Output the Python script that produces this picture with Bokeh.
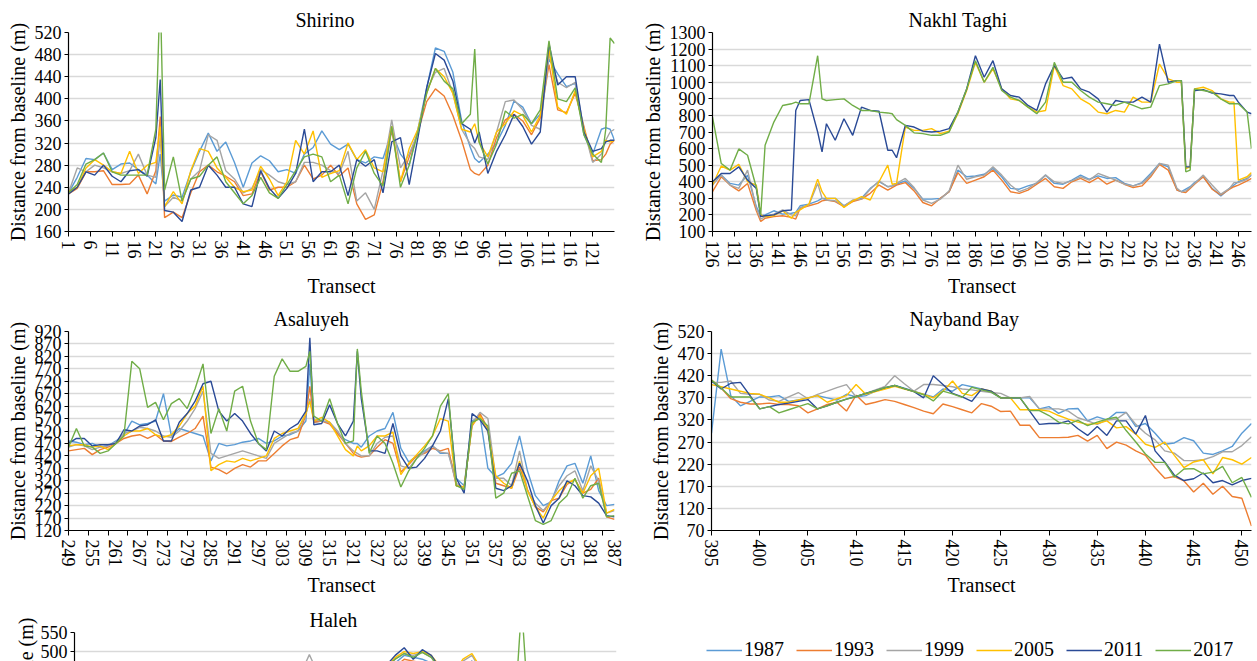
from bokeh.plotting import figure
from bokeh.models import Range1d, FixedTicker, Title, Legend, LegendItem
from bokeh.layouts import column, row
from bokeh.embed import file_html
from bokeh.resources import INLINE

FONT = "Liberation Serif"
YEARS = ["1987", "1993", "1999", "2005", "2011", "2017"]
COLORS = ["#5B9BD5", "#ED7D31", "#A5A5A5", "#FFC000", "#2A4A96", "#70AD47"]

# ---------------- Shirino ----------------
SH_X = [1, 3, 5, 7, 9, 11, 13, 15, 17, 19,
        21, 22, 23, 25, 27, 29, 31, 33, 35, 37,
        39, 41, 43, 45, 47, 49, 51, 53, 55, 57,
        59, 61, 63, 65, 67, 69, 71, 73, 75, 77,
        79, 81, 83, 85, 87, 89, 91, 93, 94, 95,
        97, 99, 101, 103, 105, 107, 109, 111, 113, 115,
        117, 119, 121, 123, 124, 125, 126]
SH_1987 = [230, 258, 292, 290, 302, 272, 282, 284, 272, 262,
           246, 300, 215, 226, 222, 268, 305, 338, 305, 322,
           285, 240, 284, 297, 288, 268, 272, 265, 300, 312,
           342, 318, 308, 318, 290, 284, 295, 292, 340, 300,
           280, 345, 420, 492, 486, 448, 360, 312, 292, 285,
           300, 320, 352, 396, 385, 355, 372, 472, 445, 422,
           428, 335, 300, 345, 348, 345, 325]
SH_1993 = [228, 238, 268, 268, 270, 245, 245, 246, 262, 228,
           270, 368, 185, 195, 185, 230, 268, 280, 268, 260,
           250, 225, 228, 268, 235, 240, 240, 250, 280, 255,
           262, 280, 260, 275, 210, 182, 190, 250, 345, 250,
           295, 340, 395, 418, 405, 370, 325, 272, 265, 262,
           280, 330, 362, 372, 360, 335, 365, 462, 380, 375,
           410, 350, 288, 290, 300, 318, 325]
SH_1999 = [230, 275, 268, 280, 275, 268, 265, 270, 300, 262,
           258, 330, 205, 222, 215, 255, 270, 335, 325, 270,
           255, 230, 238, 272, 262, 250, 245, 250, 285, 285,
           280, 270, 265, 305, 215, 230, 200, 270, 362, 275,
           300, 338, 415, 448, 455, 410, 345, 318, 310, 295,
           290, 340, 395, 398, 380, 352, 345, 480, 430, 420,
           430, 345, 285, 300, 325, 340, 345]
SH_2005 = [232, 240, 275, 290, 280, 268, 265, 305, 265, 280,
           285, 350, 205, 232, 210, 270, 310, 305, 275, 258,
           240, 232, 235, 278, 255, 225, 250, 325, 300, 342,
           258, 265, 270, 320, 290, 308, 275, 268, 350, 250,
           310, 345, 410, 455, 440, 410, 345, 340, 355, 322,
           295, 340, 355, 378, 370, 340, 370, 490, 385, 372,
           415, 345, 295, 305, 325, 322, 325]
SH_2011 = [228, 240, 268, 262, 280, 260, 250, 270, 272, 260,
           330, 435, 198, 195, 178, 235, 240, 280, 262, 240,
           240, 210, 205, 270, 238, 220, 238, 265, 345, 250,
           268, 268, 280, 225, 290, 278, 290, 230, 322, 330,
           245, 330, 420, 482, 470, 432, 355, 345, 320, 340,
           265, 305, 335, 372, 350, 318, 340, 500, 425, 440,
           440, 340, 305, 310, 322, 325, 325]
SH_2017 = [230, 245, 282, 290, 302, 268, 262, 262, 262, 262,
           345, 600, 235, 295, 215, 255, 260, 280, 295, 250,
           230, 210, 225, 258, 230, 220, 245, 270, 295, 300,
           295, 250, 262, 210, 275, 305, 265, 242, 350, 240,
           280, 340, 410, 455, 432, 418, 355, 372, 490, 322,
           282, 318, 378, 365, 372, 355, 380, 505, 400, 395,
           420, 335, 300, 285, 345, 510, 500]

# ---------------- Nakhl Taghi ----------------
NT_X = [126, 128, 130, 132, 134, 136, 137, 138, 140, 142,
        144, 145, 146, 148, 150, 151, 152, 154, 156, 158,
        160, 162, 164, 166, 167, 168, 170, 172, 174, 176,
        178, 180, 182, 184, 186, 188, 190, 192, 194, 196,
        198, 200, 202, 204, 206, 208, 210, 212, 214, 216,
        218, 220, 222, 224, 226, 228, 230, 232, 233, 234,
        235, 236, 238, 240, 242, 244, 245, 246, 248, 249]
NT_1987 = [400, 440, 390, 380, 440, 250, 195, 200, 225, 205,
           210, 215, 255, 265, 285, 300, 300, 300, 255, 285,
           300, 360, 400, 370, 375, 385, 405, 360, 295, 295,
           300, 340, 470, 430, 435, 445, 480, 430, 360, 355,
           375, 390, 440, 390, 385, 410, 440, 415, 435, 420,
           425, 390, 375, 395, 450, 510, 490, 350, 340, 355,
           370, 395, 430, 360, 315, 360, 380, 400, 420, 440]
NT_1993 = [340, 430, 380, 345, 390, 225, 160, 180, 190, 195,
           185, 175, 240, 255, 270, 285, 290, 280, 250, 280,
           295, 330, 380, 350, 365, 380, 395, 345, 275, 255,
           300, 340, 455, 390, 410, 430, 470, 410, 340, 330,
           350, 385, 420, 370, 360, 400, 420, 395, 425, 385,
           410, 385, 365, 375, 430, 505, 470, 350, 340, 335,
           360, 385, 430, 355, 320, 355, 370, 380, 405, 420]
NT_1999 = [380, 440, 380, 360, 470, 240, 175, 190, 205, 230,
           200, 195, 245, 260, 390, 300, 290, 285, 255, 290,
           295, 355, 405, 370, 375, 390, 420, 365, 290, 270,
           295, 345, 500, 415, 430, 440, 490, 440, 380, 340,
           360, 395, 440, 400, 390, 405, 430, 410, 450, 430,
           410, 385, 375, 390, 440, 510, 500, 360, 340, 345,
           365, 390, 440, 380, 325, 360, 395, 395, 415, 445]
NT_2005 = [380, 495, 470, 505, 400, 380, 200, 190, 195, 225,
           180, 215, 230, 265, 415, 340, 300, 300, 245, 285,
           310, 290, 400, 500, 385, 390, 730, 710, 710, 720,
           690, 705, 810, 950, 1120, 1000, 1080, 960, 900, 890,
           850, 820, 830, 1100, 980, 960, 900, 870, 820, 810,
           830, 820, 910, 880, 880, 1110, 1020, 1000, 1000, 480,
           490, 960, 970, 950, 900, 880, 880, 410, 430, 455]
NT_2011 = [400, 450, 450, 490, 410, 360, 190, 195, 200, 225,
           230, 830, 890, 895, 700, 580, 750, 650, 780, 680,
           850, 830, 825, 590, 590, 545, 740, 730, 705, 700,
           705, 720, 820, 960, 1160, 1030, 1130, 960, 920, 910,
           860, 830, 990, 1100, 1020, 1030, 960, 940, 900, 820,
           890, 880, 880, 910, 880, 1230, 1000, 1010, 1010, 490,
           490, 950, 955, 935, 930, 920, 920, 880, 820, 810]
NT_2017 = [790, 510, 470, 598, 560, 365, 200, 620, 760, 860,
           870, 880, 870, 870, 1160, 900, 890, 895, 900, 860,
           830, 830, 820, 815, 810, 775, 740, 695, 690, 680,
           680, 700, 820, 960, 1130, 1000, 1090, 950, 910, 890,
           850, 810, 880, 1120, 1000, 1000, 950, 910, 880, 870,
           860, 880, 860, 840, 850, 980, 990, 1010, 1010, 460,
           470, 960, 950, 940, 900, 870, 870, 870, 820, 600]

# ---------------- Asaluyeh ----------------
AS_X = [249, 251, 253, 255, 257, 259, 261, 263, 265, 267,
        269, 271, 273, 275, 277, 279, 281, 283, 285, 287,
        289, 291, 293, 295, 297, 299, 301, 303, 305, 307,
        309, 310, 311, 313, 315, 317, 319, 321, 322, 323,
        325, 327, 329, 331, 333, 335, 337, 339, 341, 343,
        345, 347, 349, 351, 353, 355, 357, 359, 361, 363,
        365, 367, 369, 371, 373, 375, 377, 379, 381, 383,
        385, 387]
AS_1987 = [480, 475, 465, 470, 455, 460, 480, 505, 560, 545,
           550, 560, 670, 500, 530, 520, 510, 500, 400, 470,
           460, 465, 475, 480, 490, 470, 480, 500, 505, 520,
           560, 790, 555, 560, 555, 510, 485, 470, 470, 455,
           500, 520, 530, 595, 450, 395, 420, 440, 460, 430,
           430, 330, 300, 560, 580, 370, 335, 350, 390, 500,
           360, 260, 220, 235, 320, 380, 390, 310, 420, 280,
           220, 225]
AS_1993 = [440, 445, 450, 425, 445, 455, 470, 490, 500, 505,
           490, 505, 480, 478, 495, 510, 530, 580, 375, 365,
           348, 370, 385, 375, 400, 400, 430, 460, 485, 495,
           585, 700, 555, 560, 548, 510, 470, 430, 420, 415,
           420, 455, 485, 470, 355, 385, 420, 430, 450, 440,
           450, 300, 295, 540, 590, 530, 310, 300, 290, 375,
           285, 215, 195, 240, 250, 305, 325, 270, 285, 330,
           175, 165]
AS_1999 = [455, 465, 460, 445, 455, 460, 475, 510, 520, 535,
           530, 520, 500, 495, 520, 560, 610, 680, 430, 410,
           420, 430, 440, 430, 420, 410, 470, 490, 510, 520,
           590, 650, 565, 560, 555, 520, 470, 440, 430, 420,
           420, 470, 495, 500, 380, 370, 410, 435, 460, 435,
           430, 310, 290, 550, 595, 570, 330, 330, 300, 440,
           280, 230, 200, 240, 300, 340, 360, 280, 380, 320,
           190, 200]
AS_2005 = [460, 465, 465, 455, 460, 445, 470, 500, 520, 520,
           530, 505, 495, 505, 540, 590, 620, 700, 360, 385,
           400, 395, 410, 400, 410, 420, 490, 510, 520, 530,
           590, 640, 560, 575, 555, 500, 445, 420, 460, 440,
           460, 500, 500, 515, 345, 390, 425, 460, 500, 570,
           560, 300, 295, 545, 580, 520, 340, 310, 290, 400,
           280, 215, 170, 240, 280, 310, 325, 270, 340, 370,
           190, 205]
AS_2011 = [470, 490, 490, 460, 465, 465, 470, 525, 520, 540,
           545, 565, 480, 480, 555, 590, 640, 710, 720, 600,
           560, 590, 560, 510, 470, 440, 520, 500, 530, 550,
           600, 895, 545, 550, 625, 550, 500, 560, 840, 650,
           440, 440, 430, 550, 420, 370, 375, 410, 460, 520,
           650, 330, 270, 590, 565, 520, 290, 280, 300, 390,
           320, 220, 150, 220, 250, 320, 300, 260, 255, 230,
           180, 175]
AS_2017 = [455, 530, 460, 455, 430, 440, 470, 500, 800, 770,
           615, 635, 565, 630, 650, 610, 690, 790, 510, 610,
           520, 680, 700, 560, 470, 445, 740, 810, 760, 760,
           780, 840, 580, 560, 650, 550, 470, 480, 850, 680,
           430, 500, 470, 390, 295, 360, 410, 450, 500, 620,
           670, 300, 285, 555, 570, 540, 250, 270, 350, 360,
           260, 160, 145, 160, 230, 260, 330, 250, 300, 310,
           175, 180]

# ---------------- Nayband Bay ----------------
NB_X = list(range(395, 452))
NB_1987 = [290, 480, 375, 352, 362, 372, 372, 375, 362, 365,
           370, 375, 370, 365, 378, 372, 375, 385, 392, 398,
           392, 385, 378, 372, 390, 385, 400, 395, 390, 383,
           370, 370, 370, 370, 345, 350, 335, 345, 346, 318,
           327, 320, 337, 337, 305, 312, 290, 265, 268, 280,
           273, 245, 242, 250, 260, 290, 312]
NB_1993 = [410, 392, 368, 360, 356, 356, 358, 355, 355, 352,
           336, 345, 355, 360, 340, 376, 355, 360, 366, 362,
           355, 348, 340, 334, 356, 350, 343, 336, 357, 351,
           339, 340, 308, 308, 280, 280, 280, 281, 285, 272,
           285, 255, 270, 263, 250, 240, 212, 188, 192, 182,
           157, 177, 152, 170, 147, 143, 80]
NB_1999 = [405, 405, 408, 380, 378, 378, 365, 362, 372, 382,
           368, 378, 385, 393, 400, 372, 380, 388, 396, 420,
           402, 385, 400, 400, 398, 395, 390, 388, 385, 382,
           380, 370, 370, 373, 345, 345, 345, 340, 325, 318,
           310, 320, 322, 337, 310, 290, 275, 250, 245, 228,
           228, 230, 237, 248, 248, 262, 282]
NB_2005 = [400, 395, 390, 385, 380, 378, 370, 360, 360, 365,
           370, 375, 360, 368, 375, 400, 378, 384, 390, 396,
           390, 384, 378, 370, 385, 408, 380, 375, 390, 385,
           370, 370, 343, 343, 343, 340, 330, 322, 315, 310,
           312, 318, 302, 305, 288, 265, 258, 270, 240, 212,
           225, 230, 198, 235, 230, 220, 235]
NB_2011 = [408, 390, 403, 405, 375, 345, 350, 355, 358, 362,
           366, 345, 352, 360, 367, 373, 380, 386, 393, 398,
           391, 384, 370, 420, 400, 380, 372, 362, 390, 385,
           370, 370, 370, 340, 310, 312, 312, 318, 300, 285,
           305, 285, 318, 318, 288, 330, 250, 225, 195, 183,
           187, 200, 178, 183, 173, 183, 188]
NB_2017 = [410, 392, 372, 372, 372, 345, 350, 336, 343, 350,
           357, 345, 352, 360, 367, 373, 380, 386, 393, 398,
           391, 384, 377, 363, 385, 379, 371, 394, 388, 383,
           370, 370, 370, 341, 341, 330, 315, 311, 319, 307,
           315, 322, 326, 296, 270, 243, 224, 224, 191, 209,
           210, 198, 202, 215, 178, 190, 145]

# ---------------- Haleh (top part only visible) ----------------
HA_X = [452, 480, 502, 504, 506, 520, 523, 525, 527, 529, 531,
        533, 536, 538, 540, 542, 548, 550, 551, 552, 556, 572]
HA_1987 = [420, 430, 440, 455, 440, 440, 470, 490, 485, 480, 470,
           450, 440, 455, 470, 445, 440, 445, 450, 440, 430, 420]
HA_1993 = [410, 420, 430, 440, 430, 430, 460, 480, 475, 470, 460,
           440, 430, 450, 465, 440, 430, 435, 440, 430, 420, 410]
HA_1999 = [415, 425, 440, 492, 440, 445, 480, 495, 490, 498, 485,
           455, 445, 475, 490, 450, 440, 445, 450, 440, 430, 415]
HA_2005 = [415, 425, 435, 450, 440, 445, 485, 500, 495, 500, 490,
           460, 445, 480, 495, 455, 440, 445, 450, 440, 430, 415]
HA_2011 = [415, 425, 435, 450, 440, 450, 490, 510, 480, 505, 490,
           455, 440, 460, 475, 445, 440, 445, 450, 440, 430, 415]
HA_2017 = [415, 425, 435, 450, 440, 450, 480, 495, 485, 498, 485,
           450, 440, 460, 470, 445, 440, 440, 620, 440, 430, 415]


def make_panel(title, width, height, xs, series, xr, yr, yticks, xticks,
               xminor, borders, title_off, show_x=True, ylabel=True):
    kw = {}
    if not show_x:
        kw["x_axis_location"] = None
    p = figure(width=width, height=height, title=title,
               x_range=Range1d(*xr), y_range=Range1d(*yr),
               output_backend="svg", toolbar_location=None,
               min_border_left=borders[0], min_border_right=borders[1],
               min_border_top=borders[2], min_border_bottom=borders[3], **kw)
    p.outline_line_color = None
    p.background_fill_color = "white"
    p.border_fill_color = "white"
    p.title.align = "left"
    p.title.offset = title_off
    p.title.text_font = FONT
    p.title.text_font_size = "20px"
    p.title.text_font_style = "normal"
    p.title.text_color = "#000000"
    p.title.standoff = 4

    p.xgrid.visible = False
    p.ygrid.ticker = FixedTicker(ticks=yticks)
    p.ygrid.grid_line_color = "#D9D9D9"
    p.ygrid.grid_line_width = 1.3

    yax = p.yaxis[0]
    yax.ticker = FixedTicker(ticks=yticks)
    yax.axis_line_color = "#000000"
    yax.axis_line_width = 1.2
    yax.major_tick_line_color = "#000000"
    yax.major_tick_out = 4
    yax.major_tick_in = 0
    yax.minor_tick_out = 0
    yax.minor_tick_in = 0
    yax.major_label_text_font = FONT
    yax.major_label_text_font_size = "18px"
    yax.major_label_text_color = "#000000"
    yax.major_label_standoff = 3
    if ylabel:
        yax.axis_label = "Distance from baseline (m)"
        yax.axis_label_text_font = FONT
        yax.axis_label_text_font_size = "20px"
        yax.axis_label_text_font_style = "normal"
        yax.axis_label_text_color = "#000000"
        yax.axis_label_standoff = 3

    if show_x:
        xax = p.xaxis[0]
        xax.ticker = FixedTicker(ticks=xticks, minor_ticks=xminor)
        xax.axis_line_color = "#000000"
        xax.axis_line_width = 1.2
        xax.major_tick_line_color = "#000000"
        xax.minor_tick_line_color = "#000000"
        if xminor:
            xax.major_tick_out = 0
            xax.minor_tick_out = 5
        else:
            xax.major_tick_out = 5
            xax.minor_tick_out = 0
        xax.major_tick_in = 0
        xax.minor_tick_in = 0
        xax.major_label_orientation = "vertical"
        xax.major_label_text_font = FONT
        xax.major_label_text_font_size = "18px"
        xax.major_label_text_color = "#000000"
        xax.major_label_standoff = 4
        xax.axis_label = "Transect"
        xax.axis_label_text_font = FONT
        xax.axis_label_text_font_size = "20px"
        xax.axis_label_text_font_style = "normal"
        xax.axis_label_text_color = "#000000"
        xax.axis_label_standoff = 4

    for ys, c in zip(series, COLORS):
        p.line(xs, ys, line_color=c, line_width=1.4)
    return p


shirino = make_panel("Shirino", 627, 300, SH_X,
                     [SH_1987, SH_1993, SH_1999, SH_2005, SH_2011, SH_2017],
                     (1, 126), (160, 520), list(range(160, 521, 40)),
                     list(range(1, 126, 5)), [], (68, 13, 32, 69), 227)
nakhl = make_panel("Nakhl Taghi", 630, 300, NT_X,
                   [NT_1987, NT_1993, NT_1999, NT_2005, NT_2011, NT_2017],
                   (126, 249), (100, 1300), list(range(100, 1301, 100)),
                   list(range(126, 249, 5)), [], (85, 6, 32, 69), 196)
asal = make_panel("Asaluyeh", 627, 300, AS_X,
                  [AS_1987, AS_1993, AS_1999, AS_2005, AS_2011, AS_2017],
                  (249, 387), (120, 920), list(range(120, 921, 50)),
                  list(range(249, 388, 6)), list(range(249, 388, 5)),
                  (68, 13, 31, 70), 205)
nayband = make_panel("Nayband Bay", 630, 300, NB_X,
                     [NB_1987, NB_1993, NB_1999, NB_2005, NB_2011, NB_2017],
                     (395, 451), (70, 520), list(range(70, 521, 50)),
                     list(range(395, 452, 5)), [], (84, 6, 31, 70), 198)
haleh = make_panel("Haleh", 627, 61, HA_X,
                   [HA_1987, HA_1993, HA_1999, HA_2005, HA_2011, HA_2017],
                   (452, 572), (474, 550), list(range(0, 551, 50)),
                   [], [], (74, 11, 32, 0), 235, show_x=False, ylabel=False)
haleh.add_layout(Title(text="Distance from baseline (m)", align="right",
                       offset=-15, text_font=FONT, text_font_size="20px",
                       text_font_style="normal", text_color="#000000",
                       standoff=2), "left")

# legend strip (sample lines sit outside the visible range; only their legend glyphs show)
leg = figure(width=630, height=61, x_range=Range1d(0, 1), y_range=Range1d(0, 1),
             output_backend="svg", toolbar_location=None,
             x_axis_location=None, y_axis_location=None,
             min_border_left=0, min_border_right=0,
             min_border_top=0, min_border_bottom=0)
leg.outline_line_color = None
leg.grid.visible = False
items = []
for yr, c in zip(YEARS, COLORS):
    r = leg.line(x=[-5, -4], y=[-5, -4], line_color=c, line_width=1.4)
    items.append(LegendItem(label=yr, renderers=[r]))
legend = Legend(items=items, orientation="horizontal", location=(79, 0),
                glyph_width=36, glyph_height=20, label_standoff=2, spacing=12,
                padding=0, margin=0, border_line_color=None,
                background_fill_alpha=0, label_text_font=FONT,
                label_text_font_size="20px", label_text_color="#000000",
                label_height=20)
leg.add_layout(legend)

layout = column(row(shirino, nakhl), row(asal, nayband), row(haleh, leg))

with open("out.html", "w") as f:
    f.write(file_html(layout, INLINE))
